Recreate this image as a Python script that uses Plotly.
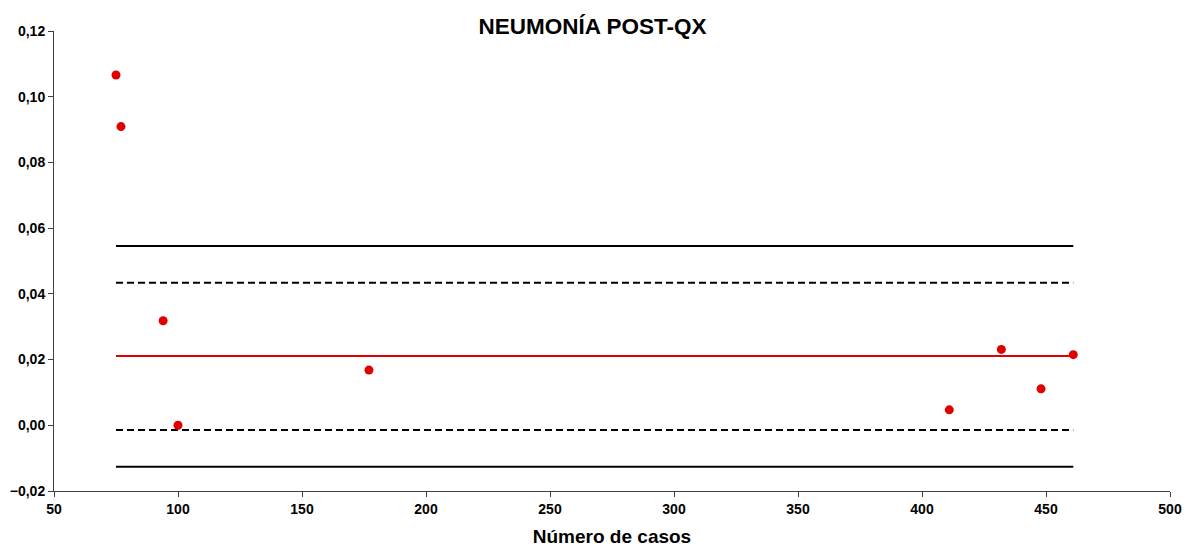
import plotly.graph_objects as go

casos = [75, 77, 94, 100, 177, 411, 432, 448, 461]
tasa = [0.1066, 0.0909, 0.0318, 0.0, 0.0168, 0.0047, 0.0231, 0.0111, 0.0215]

x_range_lines = [75, 461]
media = 0.0211
lim_sup_95 = 0.0434
lim_inf_95 = -0.0014
lim_sup_99 = 0.0546
lim_inf_99 = -0.0126

fig = go.Figure()

def hline(y, color, dash):
    fig.add_trace(go.Scatter(x=x_range_lines, y=[y, y], mode="lines",
                             line=dict(color=color, width=2, dash=dash),
                             showlegend=False, hoverinfo="skip"))

hline(lim_sup_99, "black", "solid")
hline(lim_sup_95, "black", "7px,4px")
hline(media, "#e00000", "solid")
hline(lim_inf_95, "black", "7px,4px")
hline(lim_inf_99, "black", "solid")

fig.add_trace(go.Scatter(x=casos, y=tasa, mode="markers",
                         marker=dict(color="#e00000", size=9),
                         showlegend=False))

font = "Liberation Sans, Arial, sans-serif"
fig.update_layout(
    width=1185, height=547,
    margin=dict(l=54, r=15, t=31, b=56, autoexpand=False),
    paper_bgcolor="white", plot_bgcolor="white",
    separators=",.",
    font=dict(family=font, color="black"),
    title=dict(text="<b>NEUMONÍA POST-QX</b>", x=0.5, xanchor="center",
               y=1 - 26 / 547, yanchor="middle", automargin=False,
               font=dict(size=22.5, family=font, color="black")),
)
fig.update_xaxes(range=[50, 500], dtick=50, tick0=50, automargin=False,
                 showline=True, linecolor="#404040", linewidth=1,
                 ticks="outside", ticklen=5, tickcolor="#404040",
                 showgrid=False, zeroline=False,
                 tickfont=dict(size=14, family=font, color="black", weight="bold"),
                 title=dict(text="<b>Número de casos</b>", standoff=17,
                            font=dict(size=19, family=font, color="black")))
fig.update_yaxes(range=[-0.02, 0.12], dtick=0.02, tick0=-0.02, tickformat=".2f",
                 automargin=False,
                 showline=True, linecolor="#404040", linewidth=1,
                 ticks="outside", ticklen=5, tickcolor="#404040",
                 showgrid=False, zeroline=False,
                 tickfont=dict(size=14, family=font, color="black", weight="bold"))

fig.write_html("out.html")
